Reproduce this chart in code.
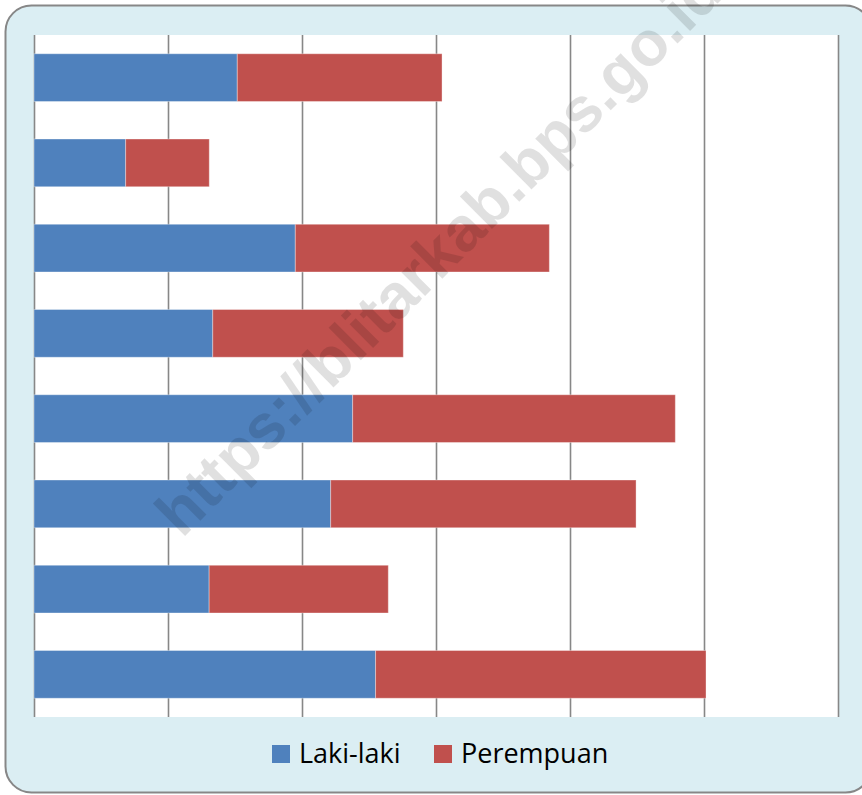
<!DOCTYPE html>
<html lang="id">
  <head>
    <meta charset="utf-8" />
    <title>Laki-laki dan Perempuan</title>
    <script src="https://d3js.org/d3.v7.min.js"></script>
    <style>
      body { margin: 0; background: #fff; }
      svg { display: block; }
    </style>
  </head>
  <body>
    <div id="chart"></div>
    <script>
      // category names are not shown in the picture
      var categories = ["K1", "K2", "K3", "K4", "K5", "K6", "K7", "K8"];
      var lakiLaki = [1517, 684, 1950, 1334, 2378, 2214, 1307, 2549];
      var perempuan = [1528, 624, 1896, 1422, 2408, 2279, 1337, 2466];
      var seriesNames = ["Laki-laki", "Perempuan"];
      var xTicks = [0, 1000, 2000, 3000, 4000, 5000, 6000];
      var watermark = "https://blitarkab.bps.go.id";

      var colors = ["#4f81bd", "#c0504d"];
      var width = 862;
      var height = 795;
      var plot = { left: 34, right: 838, top: 35, bottom: 717 };

      var svg = d3
        .select("#chart")
        .append("svg")
        .attr("width", width)
        .attr("height", height);

      // outer chart area
      svg
        .append("rect")
        .attr("x", 5.5)
        .attr("y", 5.5)
        .attr("width", 866)
        .attr("height", 787)
        .attr("rx", 26)
        .attr("fill", "#dbeef3")
        .attr("stroke", "#878787")
        .attr("stroke-width", 2);

      svg
        .append("rect")
        .attr("x", plot.left)
        .attr("y", plot.top)
        .attr("width", plot.right - plot.left)
        .attr("height", plot.bottom - plot.top)
        .attr("fill", "#fff");

      var x = d3
        .scaleLinear()
        .domain([0, 6000])
        .range([plot.left, plot.right]);

      var y = d3
        .scaleBand()
        .domain(categories)
        .range([plot.top, plot.bottom])
        .paddingInner(0.44)
        .paddingOuter(0.22);

      // vertical gridlines
      svg
        .append("g")
        .attr("class", "grid")
        .attr("transform", "translate(0," + plot.bottom + ")")
        .call(
          d3
            .axisBottom(x)
            .tickValues(xTicks)
            .tickSize(-(plot.bottom - plot.top))
            .tickFormat("")
        )
        .call(function (g) {
          g.select(".domain").remove();
          g.selectAll(".tick line")
            .attr("stroke", "#878787")
            .attr("stroke-width", 1.6);
        });

      var rows = categories.map(function (c, i) {
        return { cat: c, "Laki-laki": lakiLaki[i], Perempuan: perempuan[i] };
      });
      var stacked = d3.stack().keys(seriesNames)(rows);

      svg
        .append("g")
        .selectAll("g")
        .data(stacked)
        .join("g")
        .attr("fill", function (d, i) {
          return colors[i];
        })
        .selectAll("rect")
        .data(function (d) {
          return d;
        })
        .join("rect")
        .attr("x", function (d) {
          return x(d[0]);
        })
        .attr("y", function (d) {
          return y(d.data.cat);
        })
        .attr("width", function (d) {
          return x(d[1]) - x(d[0]);
        })
        .attr("height", y.bandwidth())
        .attr("stroke", "rgba(255,255,255,0.35)")
        .attr("stroke-width", 1);

      // legend
      var legend = svg.append("g").attr("class", "legend");
      var legendX = [272, 434];
      seriesNames.forEach(function (name, i) {
        legend
          .append("rect")
          .attr("x", legendX[i])
          .attr("y", 745)
          .attr("width", 18)
          .attr("height", 18)
          .attr("fill", colors[i]);
        legend
          .append("text")
          .attr("x", legendX[i] + 27)
          .attr("y", 762.5)
          .attr("font-family", "'Open Sans', sans-serif")
          .attr("font-size", 27)
          .attr("fill", "#000")
          .text(name);
      });

      // watermark across the chart
      svg
        .append("text")
        .attr("transform", "translate(182,539) rotate(-45)")
        .attr("font-family", "'Liberation Sans', Arial, sans-serif")
        .attr("font-weight", "bold")
        .attr("font-size", 63)
        .attr("fill", "#000")
        .attr("fill-opacity", 0.12)
        .text(watermark);
    </script>
  </body>
</html>
